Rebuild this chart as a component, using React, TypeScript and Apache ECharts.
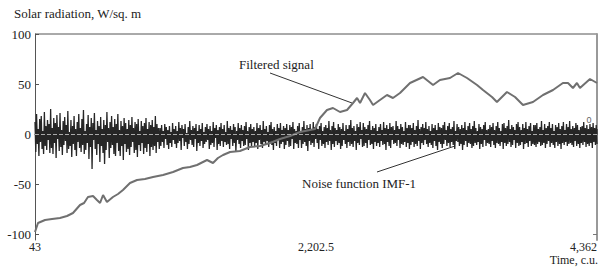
import React, { useEffect, useRef } from "react";
import * as echarts from "echarts";

const timeStart = 43;
const timeEnd = 4362;
const xTickValues = [43, 2202.5, 4362];
const yTickValues = [-100, -50, 0, 50, 100];

const filteredTime = [43, 66, 120, 174, 235, 289, 335, 389, 420, 450, 489, 519, 543, 566, 596, 642, 681, 719, 773, 827, 888, 950, 1027, 1104, 1180, 1234, 1288, 1365, 1411, 1449, 1488, 1542, 1618, 1695, 1772, 1849, 1926, 2003, 2080, 2156, 2195, 2233, 2287, 2333, 2387, 2441, 2487, 2518, 2541, 2579, 2617, 2641, 2694, 2748, 2794, 2848, 2925, 3025, 3102, 3155, 3232, 3294, 3363, 3440, 3486, 3555, 3593, 3670, 3732, 3793, 3870, 3947, 4024, 4100, 4139, 4177, 4208, 4231, 4308, 4362];
const filteredValue = [-98, -89, -86, -85, -84, -82, -79, -71, -69, -63, -62, -66, -69, -61, -68, -63, -60, -56, -49, -46, -45, -43, -41, -38, -34, -33, -31, -26, -29, -24, -21, -18, -17, -13, -12, -9, -5, -2, 2, 4, 5, 16, 24, 26, 22, 24, 31, 36, 31, 41, 34, 29, 34, 39, 36, 41, 51, 57, 49, 54, 56, 61, 56, 49, 44, 37, 32, 42, 37, 29, 32, 39, 44, 51, 51, 46, 51, 46, 55, 51];

const noiseValue = [
  12,-18,20,-10,5,-22,15,-8,18,-15,3,-20,22,-12,8,-16,14,-6,10,-19,
  25,-14,6,-20,16,-9,11,-24,19,-5,7,-17,21,-13,4,-21,13,-11,17,-7,
  9,-19,23,-15,2,-12,14,-23,8,-10,18,-16,5,-22,12,-8,20,-14,6,-18,
  15,-11,24,-20,3,-16,10,-9,19,-25,7,-13,16,-35,11,-6,21,-15,4,-21,
  13,-10,8,-28,17,-12,5,-19,14,-30,9,-16,22,-8,6,-24,12,-14,18,-11,
  7,-20,15,-22,10,-9,20,-17,4,-22,13,-12,8,-26,16,-10,11,-18,5,-15,
  14,-21,9,-13,17,-8,6,-19,12,-16,10,-23,15,-11,3,-17,13,-9,8,-20,
  11,-14,16,-18,5,-10,12,-22,9,-13,14,-16,7,-12,18,-19,10,-8,6,-15,
  6,-12,9,-8,3,-14,10,-5,7,-11,4,-15,8,-9,2,-13,11,-6,5,-10,
  8,-14,3,-9,12,-7,6,-16,9,-4,5,-12,10,-8,1,-15,7,-10,13,-6,
  4,-11,8,-13,6,-5,10,-17,3,-9,9,-12,5,-7,11,-14,2,-10,7,-8,
  10,-6,5,-15,8,-11,3,-9,12,-13,6,-4,9,-16,4,-10,7,-12,11,-7,
  5,-13,9,-8,2,-11,13,-10,6,-15,8,-5,4,-12,10,-9,7,-18,3,-6,
  11,-10,6,-14,9,-7,4,-12,8,-11,12,-5,3,-16,7,-9,10,-13,5,-8,
  7,-12,3,-9,11,-15,6,-6,9,-10,4,-14,13,-8,5,-11,8,-7,2,-13,
  9,-8,12,-11,5,-16,7,-9,3,-12,10,-6,6,-14,11,-10,4,-8,8,-15,
  6,-11,10,-7,4,-13,9,-12,7,-5,12,-15,5,-9,3,-10,8,-14,11,-6,
  3,-14,7,-10,13,-8,5,-12,9,-17,6,-7,10,-11,4,-9,12,-13,7,-5,
  10,-9,5,-15,8,-6,11,-12,3,-10,7,-14,9,-8,6,-11,13,-7,4,-16,
  8,-10,12,-13,6,-7,4,-11,10,-9,7,-15,5,-12,11,-6,3,-10,9,-14,
  5,-8,9,-12,14,-10,6,-13,8,-7,3,-16,10,-9,7,-11,12,-5,4,-13,
  11,-12,7,-9,5,-14,9,-6,13,-11,4,-10,8,-15,6,-8,10,-12,3,-9,
  7,-13,10,-7,4,-11,12,-10,6,-16,9,-8,5,-12,11,-14,7,-6,8,-10,
  4,-9,13,-12,8,-6,5,-14,10,-10,7,-11,3,-8,12,-13,6,-9,9,-15,
  9,-11,6,-8,11,-13,4,-10,8,-12,14,-7,5,-15,7,-9,10,-11,6,-6,
  12,-10,5,-13,8,-9,3,-11,10,-14,6,-7,9,-12,4,-16,11,-8,7,-10,
  6,-14,9,-10,12,-6,4,-12,8,-9,11,-13,5,-8,7,-11,13,-15,3,-7,
  10,-8,7,-12,5,-10,9,-16,6,-11,12,-7,4,-13,8,-9,11,-10,5,-14,
  8,-12,13,-9,6,-11,3,-8,10,-15,7,-10,5,-13,9,-6,12,-12,4,-9,
  5,-10,9,-13,7,-7,11,-11,4,-14,8,-9,12,-10,6,-12,3,-8,10,-15,
  11,-9,6,-12,8,-10,14,-8,5,-13,9,-11,7,-6,4,-14,10,-9,12,-12,
  7,-11,4,-8,10,-15,6,-10,12,-9,5,-13,8,-7,11,-12,3,-10,9,-11,
  9,-13,11,-10,5,-8,7,-12,13,-11,4,-9,10,-14,6,-10,8,-7,12,-13,
  6,-9,10,-11,3,-14,9,-8,7,-12,11,-10,5,-15,8,-9,12,-11,4,-8,
  10,-12,7,-10,13,-9,5,-11,8,-13,6,-7,11,-12,9,-10,4,-14,7,-9,
  8,-11,12,-8,6,-13,9,-10,5,-12,10,-9,7,-14,11,-8,6,-11,9,-10,
];

const titleText = "Solar radiation, W/sq. m";
const xAxisTitle = "Time, c.u.";
const filteredLabel = "Filtered signal";
const noiseLabel = "Noise function IMF-1";

const serif = "'Liberation Serif', 'Times New Roman', 'DejaVu Serif', serif";

export default function App() {
  const ref = useRef<HTMLDivElement>(null);
  useEffect(() => {
    if (!ref.current) return;
    const chart = echarts.init(ref.current, null, { renderer: "svg" });
    const step = (timeEnd - timeStart) / (noiseValue.length - 1);
    const noiseData = noiseValue.map((v, i) => [timeStart + i * step, v]);
    const filteredData = filteredTime.map((t, i) => [t, filteredValue[i]]);
    chart.setOption({
      animation: false,
      backgroundColor: "#fff",
      grid: { left: 35, right: 11, top: 34, bottom: 28, show: false },
      xAxis: {
        type: "value",
        min: timeStart,
        max: timeEnd,
        axisLine: { lineStyle: { color: "#555", width: 1 } },
        axisTick: { inside: true, length: 5, customValues: xTickValues, lineStyle: { color: "#555" } },
        axisLabel: {
          customValues: xTickValues,
          formatter: (v: number) => v.toLocaleString("en-US"),
          fontFamily: serif,
          fontSize: 12,
          color: "#222",
          margin: 1,
          alignMaxLabel: "right",
        },
        splitLine: { show: false },
      },
      yAxis: [
        {
          type: "value",
          min: -106,
          max: 100,
          axisLine: { show: true, lineStyle: { color: "#555", width: 1 } },
          axisTick: { show: true, inside: true, length: 4, customValues: yTickValues, lineStyle: { color: "#555" } },
          axisLabel: {
            customValues: yTickValues,
            fontFamily: serif,
            fontSize: 13,
            color: "#222",
            margin: 4,
          },
          splitLine: { show: false },
        },
        {
          type: "value",
          position: "right",
          min: -106,
          max: 100,
          axisLine: { show: true, lineStyle: { color: "#999", width: 2 } },
          axisTick: { show: true, inside: true, length: 4, customValues: [-100], lineStyle: { color: "#777" } },
          axisLabel: { show: false },
          splitLine: { show: false },
        },
      ],
      series: [
        {
          type: "line",
          data: noiseData,
          symbol: "none",
          lineStyle: { color: "#262626", width: 1.3 },
          markLine: {
            silent: true,
            symbol: "none",
            label: { show: false },
            lineStyle: { color: "#aaa", type: "dashed", width: 1 },
            data: [{ yAxis: 0 }],
          },
          z: 2,
        },
        {
          type: "line",
          data: filteredData,
          symbol: "none",
          lineStyle: { color: "#707070", width: 2 },
          z: 3,
        },
      ],
      graphic: [
        { type: "line", shape: { x1: 35, y1: 34, x2: 597, y2: 34 }, style: { stroke: "#555", lineWidth: 1 } },
        { type: "text", x: 14, y: 13, style: { text: titleText, fontFamily: serif, fontSize: 13, fill: "#222", verticalAlign: "middle" } },
        { type: "text", x: 598, y: 260, style: { text: xAxisTitle, fontFamily: serif, fontSize: 12, fill: "#222", align: "right", verticalAlign: "middle" } },
        { type: "text", x: 239, y: 64, style: { text: filteredLabel, fontFamily: serif, fontSize: 13, fill: "#222", verticalAlign: "middle" } },
        { type: "line", shape: { x1: 270, y1: 73, x2: 352, y2: 103 }, style: { stroke: "#333", lineWidth: 1 } },
        { type: "text", x: 302, y: 183, style: { text: noiseLabel, fontFamily: serif, fontSize: 13, fill: "#222", verticalAlign: "middle" } },
        { type: "line", shape: { x1: 377, y1: 172, x2: 455, y2: 146 }, style: { stroke: "#333", lineWidth: 1 } },
        { type: "text", x: 589, y: 120, style: { text: "0", fontFamily: "'Liberation Sans', sans-serif", fontSize: 9, fill: "#666", align: "center", verticalAlign: "middle" } },
      ],
    });
    return () => chart.dispose();
  }, []);
  return <div ref={ref} style={{ width: 608, height: 268, position: "absolute", left: 0, top: 0 }} />;
}
